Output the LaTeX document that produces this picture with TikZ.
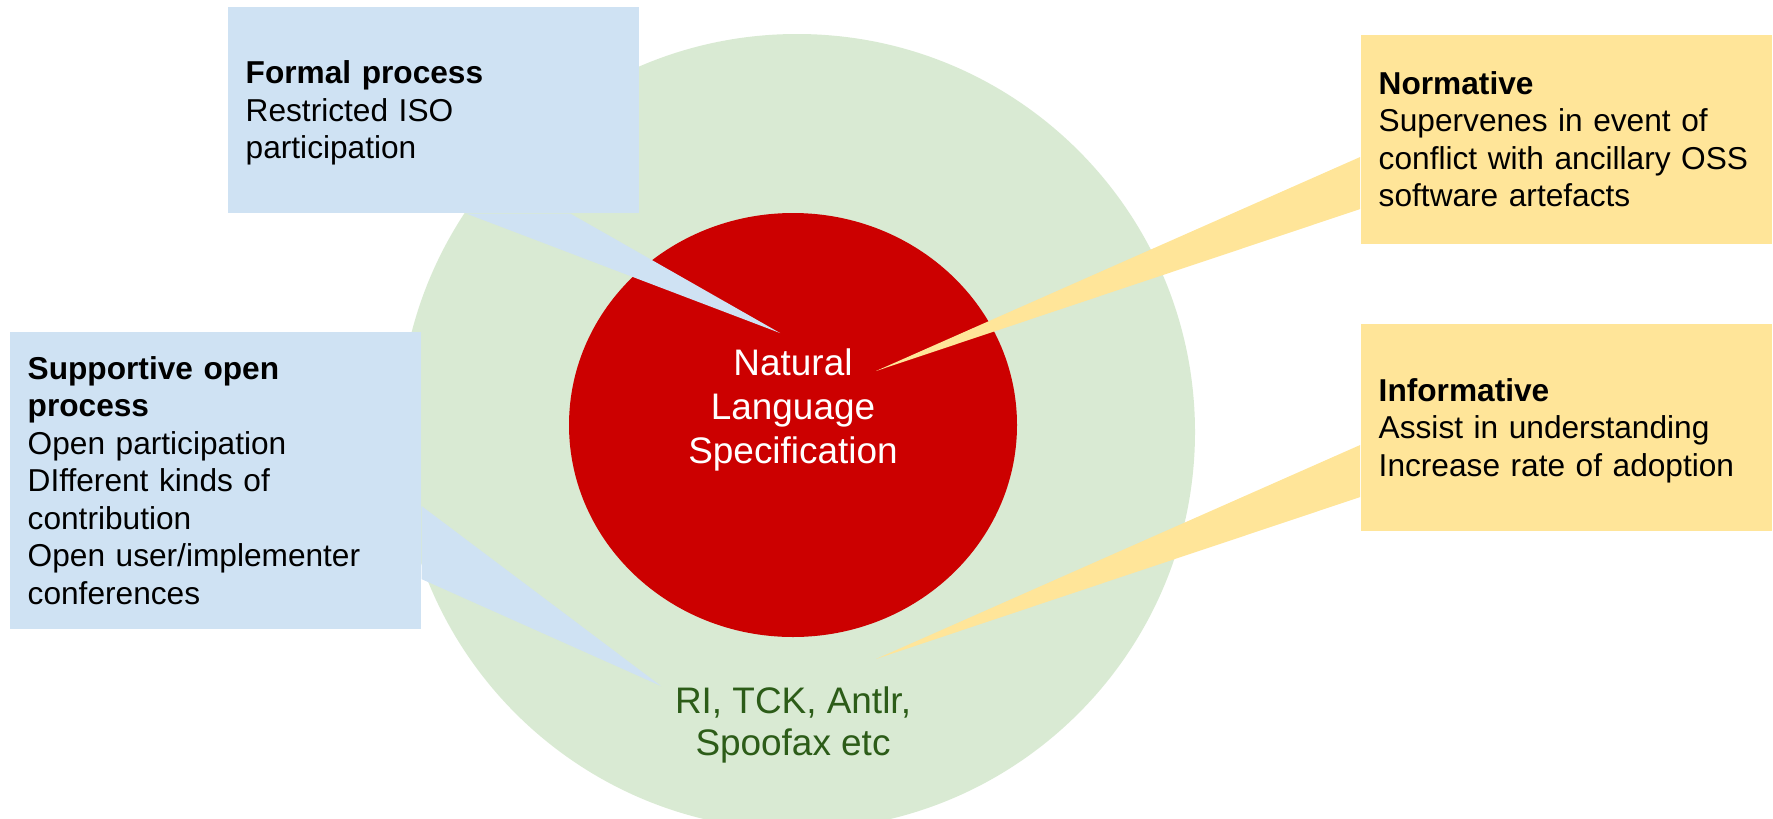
\documentclass[tikz,border=0pt]{standalone}
\usepackage{fontspec}
\setmainfont{Liberation Sans}
\definecolor{boxblue}{HTML}{CFE2F3}
\definecolor{boxyellow}{HTML}{FFE599}
\definecolor{ringgreen}{HTML}{D9EAD3}
\definecolor{specred}{HTML}{CC0000}
\definecolor{toolgreen}{RGB}{44,92,24}
\tikzset{
  callbox/.style={anchor=north west, inner xsep=0.18cm, inner ysep=0pt,
    text width=3.75cm, minimum height=#1, align=left,
    font=\fontsize{9pt}{10.67pt}\selectfont},
  centertext/.style={align=center, font=\fontsize{10.5pt}{12.5pt}\selectfont}
}
\begin{document}
\begin{tikzpicture}[x=0.01cm,y=-0.01cm]
                \clip (0,0) rectangle (1773,818);
                
                % Drawing outer circle
                \fill [ringgreen] (797,432) circle (398);%
                
                % Drawing inner circle
                \fill [specred] (793,425) ellipse [x radius=224, y radius=212];%
                
                % Marking callout tips
                \coordinate (formaltip) at (780,333);%
                \coordinate (supporttip) at (661,686);%
                \coordinate (normtip) at (876,371);%
                \coordinate (infotip) at (876,659);%
                
                % Drawing box Formal
                \node (formal) [callbox=2.06cm, fill=boxblue] at (227,6)
                  {\textbf{Formal process}\\Restricted ISO\\\smash{participation}};%
                
                % Drawing box Supportive
                \node (support) [callbox=2.97cm, fill=boxblue] at (9,331)
                  {\textbf{Supportive open}\\\textbf{process}\\Open participation\\DIfferent kinds of\\contribution\\Open user/implementer\\conferences};%
                
                % Drawing box Normative
                \node (normative) [callbox=2.09cm, fill=boxyellow] at (1360,34)
                  {\textbf{Normative}\\Supervenes in event of\\conflict with ancillary OSS\\software artefacts};%
                
                % Drawing box Informative
                \node (informative) [callbox=2.07cm, fill=boxyellow] at (1360,323)
                  {\textbf{Informative}\\Assist in understanding\\\smash{Increase rate of adoption}};%
                
                % Drawing callout Formal
                \fill [boxblue] ([xshift=2.39cm]formal.south west) -- (formaltip)
                  -- ([xshift=3.43cm]formal.south west) -- cycle;%
                
                % Drawing callout Supportive
                \fill [boxblue] ([yshift=-1.75cm]support.north east) -- (supporttip)
                  -- ([yshift=-2.48cm]support.north east) -- cycle;%
                
                % Drawing callout Normative
                \fill [boxyellow] ([yshift=-1.23cm]normative.north west) -- (normtip)
                  -- ([yshift=-1.75cm]normative.north west) -- cycle;%
                
                % Drawing callout Informative
                \fill [boxyellow] ([yshift=-1.22cm]informative.north west) -- (infotip)
                  -- ([yshift=-1.74cm]informative.north west) -- cycle;%
                
                % Labelling circles
                \node (spec) [centertext, text=white] at (793,410)
                  {Natural\\Language\\Specification};%
                \node (tools) [centertext, text=toolgreen,
                  font=\fontsize{10.5pt}{12.1pt}\selectfont] at (793,725)
                  {RI, TCK, Antlr,\\Spoofax etc};%
\end{tikzpicture}
\end{document}
